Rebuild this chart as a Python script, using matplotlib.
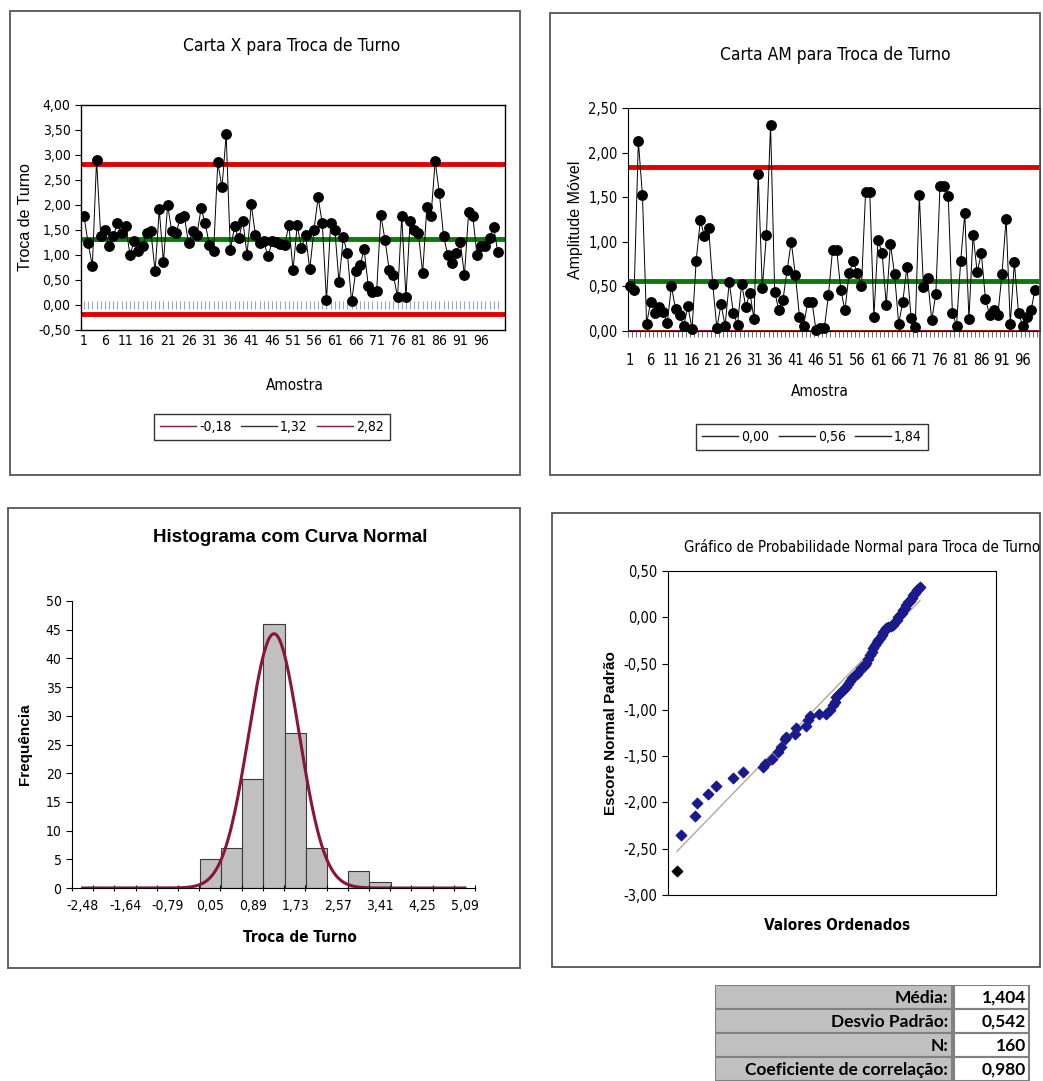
import numpy as np
import matplotlib
matplotlib.use("Agg")
from matplotlib import pyplot as plt
from matplotlib.lines import Line2D
from matplotlib.patches import Rectangle
from matplotlib.ticker import FuncFormatter, FixedLocator, NullFormatter

W, H = 1043, 1081
NARROW = ['Liberation Sans Narrow', 'DejaVu Sans']
COND = 'condensed'

# Carta X (valores individuais)
x_values = [1.77, 1.23, 0.78, 2.90, 1.38, 1.50, 1.17, 1.37, 1.63, 1.43,
            1.57, 1.00, 1.28, 1.07, 1.17, 1.43, 1.47, 0.67, 1.91, 0.85,
            2.00, 1.47, 1.43, 1.73, 1.78, 1.23, 1.47, 1.40, 1.93, 1.63,
            1.20, 1.07, 2.85, 2.35, 3.41, 1.10, 1.57, 1.33, 1.68, 1.00,
            2.01, 1.40, 1.23, 1.27, 0.97, 1.27, 1.25, 1.22, 1.20, 1.60,
            0.70, 1.60, 1.13, 1.40, 0.71, 1.50, 2.15, 1.63, 0.09, 1.63,
            1.50, 0.45, 1.35, 1.03, 0.07, 0.67, 0.79, 1.11, 0.38, 0.25,
            0.28, 1.80, 1.30, 0.70, 0.60, 0.15, 1.78, 0.15, 1.67, 1.50,
            1.43, 0.63, 1.95, 1.78, 2.88, 2.23, 1.38, 1.00, 0.83, 1.03,
            1.25, 0.60, 1.85, 1.77, 1.00, 1.17, 1.18, 1.33, 1.55, 1.05]
x_limits = [-0.18, 1.32, 2.82]
x_limit_labels = ['-0,18', '1,32', '2,82']

# Carta AM (amplitude movel)
mr_values = [0.51, 0.46, 2.13, 1.52, 0.08, 0.33, 0.20, 0.27, 0.21, 0.09,
             0.50, 0.25, 0.18, 0.06, 0.28, 0.02, 0.79, 1.24, 1.06, 1.16,
             0.53, 0.03, 0.30, 0.06, 0.55, 0.20, 0.07, 0.53, 0.27, 0.43,
             0.13, 1.76, 0.48, 1.08, 2.31, 0.44, 0.23, 0.35, 0.68, 1.00,
             0.63, 0.16, 0.06, 0.33, 0.33, 0.01, 0.03, 0.03, 0.40, 0.91,
             0.91, 0.46, 0.23, 0.65, 0.78, 0.65, 0.51, 1.56, 1.56, 0.16,
             1.02, 0.87, 0.29, 0.98, 0.64, 0.08, 0.33, 0.72, 0.15, 0.04,
             1.52, 0.49, 0.59, 0.12, 0.42, 1.62, 1.62, 1.51, 0.20, 0.06,
             0.78, 1.32, 0.14, 1.08, 0.66, 0.87, 0.36, 0.18, 0.23, 0.18,
             0.64, 1.26, 0.08, 0.77, 0.20, 0.06, 0.16, 0.23, 0.46]
mr_limits = [0.00, 0.56, 1.84]
mr_limit_labels = ['0,00', '0,56', '1,84']

sample_labels = [str(i) for i in range(1, 100, 5)]

# Histograma
bin_width = 0.42
hist_centers = [0.05, 0.47, 0.89, 1.31, 1.73, 2.15, 2.57, 2.99, 3.41]
hist_counts = [5, 7, 19, 46, 27, 7, 0, 3, 1]
hist_labels = ['-2,48', '-1,64', '-0,79', '0,05', '0,89', '1,73', '2,57', '3,41', '4,25', '5,09']
hist_label_pos = [-2.48, -1.64, -0.79, 0.05, 0.89, 1.73, 2.57, 3.41, 4.25, 5.09]
curve_mean, curve_sd, curve_peak = 1.31, 0.50, 44.3

# Grafico de probabilidade normal
np_x = [0.27, 0.41, 0.83, 0.89, 1.22, 1.45, 1.98, 2.29, 2.90, 2.97,
        3.17, 3.34, 3.46, 3.56, 3.60, 3.87, 3.90, 4.22, 4.27, 4.32,
        4.61, 4.83, 4.93, 5.04, 5.08, 5.11, 5.18, 5.24, 5.30, 5.37,
        5.43, 5.49, 5.55, 5.62, 5.68, 5.75, 5.81, 5.87, 5.93, 6.00,
        6.05, 6.10, 6.15, 6.21, 6.26, 6.31, 6.36, 6.41, 6.46, 6.51,
        6.56, 6.61, 6.66, 6.71, 6.79, 6.87, 6.92, 6.97, 7.02, 7.07,
        7.12, 7.17, 7.22, 7.27, 7.32, 7.38, 7.43, 7.48, 7.53, 7.58,
        7.63, 7.68]
np_y = [-2.74, -2.35, -2.15, -2.01, -1.91, -1.82, -1.74, -1.67, -1.62, -1.58,
        -1.53, -1.46, -1.40, -1.31, -1.29, -1.26, -1.20, -1.17, -1.11, -1.07,
        -1.05, -1.04, -1.00, -0.95, -0.92, -0.86, -0.84, -0.82, -0.80, -0.78,
        -0.75, -0.72, -0.69, -0.66, -0.63, -0.61, -0.58, -0.55, -0.54, -0.52,
        -0.49, -0.45, -0.41, -0.37, -0.33, -0.30, -0.27, -0.25, -0.22, -0.19,
        -0.16, -0.14, -0.12, -0.10, -0.09, -0.08, -0.05, -0.03, 0.00, 0.02,
        0.05, 0.08, 0.10, 0.13, 0.16, 0.18, 0.21, 0.24, 0.26, 0.29,
        0.31, 0.33]
np_fit_x = [0.27, 7.68]
np_fit_y = [-2.53, 0.18]

stats_labels = ['Média:', 'Desvio Padrão:', 'N:', 'Coeficiente de correlação:']
stats_values = ['1,404', '0,542', '160', '0,980']


def px(l, t, r, b):
    return [l / W, 1 - b / H, (r - l) / W, (b - t) / H]


def comma(fmt):
    return FuncFormatter(lambda v, p: (fmt % v).replace('.', ','))


def panel(l, t, r, b):
    fig.add_artist(Rectangle((l / W, 1 - b / H), (r - l) / W, (b - t) / H,
                             transform=fig.transFigure, fill=False, ec='#555555', lw=1.3))


def ftext(x, y, s, **kw):
    fig.text(x / W, 1 - y / H, s, ha='center', va='center', **kw)


def narrow(labels, size):
    for lab in labels:
        lab.set_family(NARROW)
        lab.set_stretch(COND)
        lab.set_fontsize(size)


fig = plt.figure(figsize=(W / 100, H / 100), dpi=100)
fig.patch.set_facecolor('white')

panel(10, 11, 520, 475)
panel(550, 13, 1040, 475)
panel(8, 508, 520, 968)
panel(552, 513, 1040, 967)

# --- Carta X ---
ax = fig.add_axes(px(81, 105, 505, 330))
samples = np.arange(1, len(x_values) + 1)
ax.plot(samples, [0] * len(samples), ls='none', marker='|', ms=6, color='#8FA8D0', mew=0.8)
ax.axhline(x_limits[0], color='#E00000', lw=3.5)
ax.axhline(x_limits[1], color='#0A7A0A', lw=3.5)
ax.axhline(x_limits[2], color='#E00000', lw=3.5)
ax.plot(samples, x_values, color='black', lw=0.7, marker='o', ms=6.8)
ax.set_xlim(0.28, 101.7)
ax.set_ylim(-0.5, 4.0)
ax.set_yticks(np.arange(-0.5, 4.01, 0.5))
ax.yaxis.set_major_formatter(comma('%.2f'))
ax.set_xticks(range(1, 100, 5))
ax.set_xticklabels(sample_labels)
ax.tick_params(axis='x', length=0, pad=3)
ax.tick_params(axis='y', length=4, direction='out')
narrow(ax.get_xticklabels() + ax.get_yticklabels(), 10)
ax.set_ylabel('Troca de Turno', fontsize=11.5, family=['Liberation Sans', 'DejaVu Sans'], labelpad=4)
for s in ax.spines.values():
    s.set_linewidth(1)

ftext(292, 46, 'Carta X para Troca de Turno', fontsize=12.5, family=NARROW, stretch=COND)
ftext(295, 385, 'Amostra', fontsize=11, family=NARROW, stretch=COND)
handles = [Line2D([], [], color=c, lw=1) for c in ['#7A1F2B', '#333333', '#7A1F2B']]
fig.legend(handles, x_limit_labels, loc='center', bbox_to_anchor=(272 / W, 1 - 427 / H), ncol=3,
           frameon=True, fancybox=False, edgecolor='black', handlelength=2.6, handletextpad=0.2,
           columnspacing=0.7, borderpad=0.45,
           prop={'family': NARROW, 'size': 10, 'stretch': COND})

# --- Carta AM ---
ax = fig.add_axes(px(628, 108, 1040, 331))
mr_samples = np.arange(1, len(mr_values) + 1)
ax.axhline(mr_limits[0], color='#9B1B1B', lw=1.5)
ax.axhline(mr_limits[1], color='#0A7A0A', lw=3.5)
ax.axhline(mr_limits[2], color='#E00000', lw=3.5)
ax.plot(mr_samples, mr_values, color='black', lw=0.7, marker='o', ms=6.8, clip_on=False, zorder=4)
ax.set_xlim(0.5, 100.2)
ax.set_ylim(0, 2.5)
ax.set_yticks(np.arange(0, 2.51, 0.5))
ax.yaxis.set_major_formatter(comma('%.2f'))
ax.set_xticks(range(1, 100, 5))
ax.set_xticklabels(sample_labels)
ax.xaxis.set_minor_locator(FixedLocator(np.arange(0.5, 100.5, 1)))
ax.tick_params(axis='x', which='major', length=0, pad=16)
ax.tick_params(axis='x', which='minor', length=4, direction='out', color='#555555')
ax.tick_params(axis='y', length=4, direction='out')
narrow(ax.get_xticklabels() + ax.get_yticklabels(), 10.5)
ax.set_ylabel('Amplitude Móvel', fontsize=11.5, family=['Liberation Sans', 'DejaVu Sans'], labelpad=4)

ftext(835, 55, 'Carta AM para Troca de Turno', fontsize=12.5, family=NARROW, stretch=COND)
ftext(820, 392, 'Amostra', fontsize=11, family=NARROW, stretch=COND)
handles = [Line2D([], [], color=c, lw=1) for c in ['#222222', '#222222', '#222222']]
fig.legend(handles, mr_limit_labels, loc='center', bbox_to_anchor=(812 / W, 1 - 437 / H), ncol=3,
           frameon=True, fancybox=False, edgecolor='black', handlelength=2.6, handletextpad=0.2,
           columnspacing=0.7, borderpad=0.45,
           prop={'family': NARROW, 'size': 10, 'stretch': COND})

# --- Histograma ---
ax = fig.add_axes(px(72, 601, 475, 888))
ax.bar(hist_centers, hist_counts, width=bin_width, color='#C0C0C0', edgecolor='#3A3A3A', lw=0.8)
xs = np.linspace(hist_label_pos[0], hist_label_pos[-1], 400)
ax.plot(xs, curve_peak * np.exp(-0.5 * ((xs - curve_mean) / curve_sd) ** 2), color='#8B1538', lw=2.2)
left_edge = hist_label_pos[0] - bin_width / 2
ax.set_xlim(left_edge, left_edge + 19 * bin_width)
ax.set_ylim(0, 50)
ax.set_yticks(range(0, 51, 5))
ax.xaxis.set_major_locator(FixedLocator(left_edge + bin_width * np.arange(0, 20)))
ax.xaxis.set_major_formatter(NullFormatter())
ax.xaxis.set_minor_locator(FixedLocator(hist_label_pos))
ax.xaxis.set_minor_formatter(FuncFormatter(lambda v, p: hist_labels[p] if p < len(hist_labels) else ''))
ax.tick_params(axis='x', which='major', length=5, direction='inout')
ax.tick_params(axis='x', which='minor', length=0, pad=8)
ax.tick_params(axis='y', length=4, direction='out')
ax.spines['top'].set_visible(False)
ax.spines['right'].set_visible(False)
narrow(ax.get_xticklabels(minor=True) + ax.get_yticklabels(), 10)
ax.set_ylabel('Frequência', fontsize=11, fontweight='bold', family=['Liberation Sans', 'DejaVu Sans'], labelpad=10)
ftext(290, 537, 'Histograma com Curva Normal', fontsize=13.5, fontweight='bold',
      family=['Liberation Sans', 'DejaVu Sans'])
ftext(300, 937, 'Troca de Turno', fontsize=11, fontweight='bold', family=NARROW, stretch=COND)

# --- Probabilidade normal ---
ax = fig.add_axes(px(668, 571, 996, 895))
ax.plot(np_fit_x, np_fit_y, color='#B5A898', lw=1)
ax.scatter(np_x[1:], np_y[1:], marker='D', s=28, color='#1A1A8C', zorder=3)
ax.scatter(np_x[:1], np_y[:1], marker='D', s=28, color='black', zorder=3)
ax.set_xlim(0, 10)
ax.set_ylim(-3, 0.5)
ax.set_xticks([])
ax.set_yticks(np.arange(-3, 0.51, 0.5))
ax.yaxis.set_major_formatter(comma('%.2f'))
ax.tick_params(axis='y', length=4, direction='out')
narrow(ax.get_yticklabels(), 10.5)
ax.set_ylabel('Escore Normal Padrão', fontsize=11, fontweight='bold',
              family=['Liberation Sans', 'DejaVu Sans'], labelpad=4)
ftext(862, 547, 'Gráfico de Probabilidade Normal para Troca de Turno', fontsize=10.8,
      family=NARROW, stretch=COND)
ftext(837, 925, 'Valores Ordenados', fontsize=11, fontweight='bold', family=NARROW, stretch=COND)

# --- Tabela de estatisticas ---
ax = fig.add_axes(px(715, 985, 1030, 1081))
ax.set_xlim(715, 1030)
ax.set_ylim(1081, 985)
ax.axis('off')
row_h = 24
for i, (lab, val) in enumerate(zip(stats_labels, stats_values)):
    top = 985 + i * row_h
    ax.add_patch(Rectangle((715, top), 237, row_h, fc='#C0C0C0', ec='#808080', lw=1.5))
    ax.add_patch(Rectangle((954, top), 75, row_h, fc='white', ec='#808080', lw=1.5))
    ax.text(948, top + row_h / 2 + 1, lab, ha='right', va='center', fontsize=12.5,
            fontweight='bold', family=['Lato', 'DejaVu Sans'])
    ax.text(1026, top + row_h / 2 + 1, val, ha='right', va='center', fontsize=12.5,
            fontweight='bold', family=['Lato', 'DejaVu Sans'])

plt.savefig('out.png', dpi=100)
plt.close()
